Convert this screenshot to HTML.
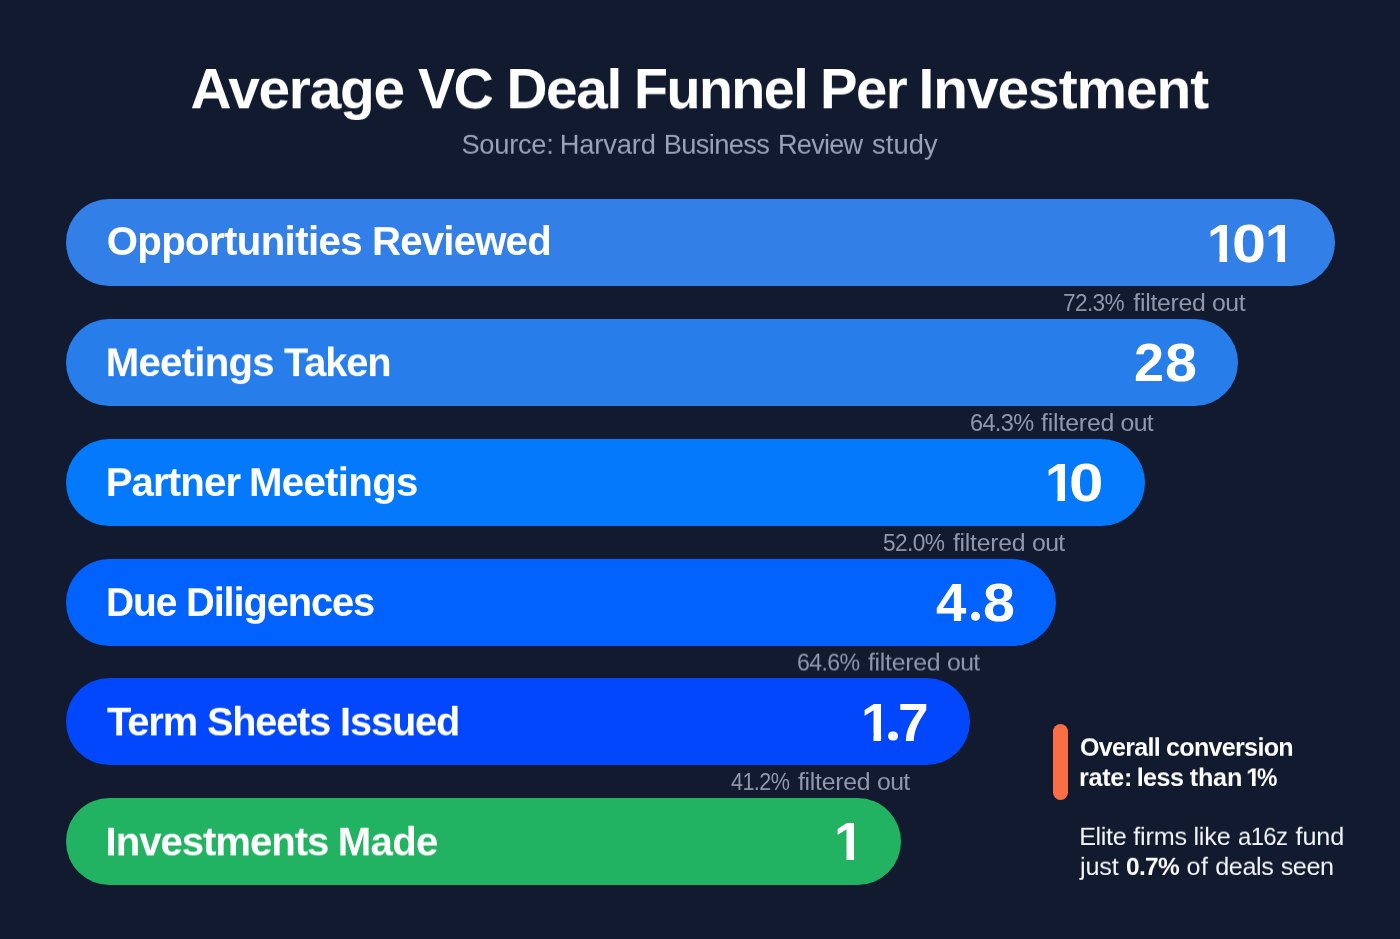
<!DOCTYPE html>
<html>
<head>
<meta charset="utf-8">
<title>Average VC Deal Funnel Per Investment</title>
<style>
  html, body { margin: 0; padding: 0; }
  body { width: 1400px; height: 939px; overflow: hidden; position: relative; background: #111a2e;
         font-family: "Liberation Sans", sans-serif; }
  .t { position: absolute; left: 0; top: 0; margin: 0; white-space: nowrap; line-height: 1; font-weight: normal; will-change: transform; }
  .t span { position: absolute; top: 0; transform-origin: 0 0; }
  .bar { position: absolute; left: 65.6px; border-radius: 44px; }
</style>
</head>
<body>
<div class="bar" id="b1" style="top:199.4px; height:86.5px; width:1269.1px; background:#337fe8;"></div>
<div class="bar" id="b2" style="top:319.1px; height:86.5px; width:1172.9px; background:#277de9;"></div>
<div class="bar" id="b3" style="top:439.1px; height:86.5px; width:1079.4px; background:#0479fb;"></div>
<div class="bar" id="b4" style="top:559.1px; height:86.5px; width:990.6px; background:#0262fe;"></div>
<div class="bar" id="b5" style="top:678.3px; height:87.0px; width:904.4px; background:#0247fc;"></div>
<div class="bar" id="b6" style="top:797.9px; height:87.1px; width:835.9px; background:#21b262;"></div>
<div id="accent" style="position:absolute; left:1053.1px; top:723.6px; width:15.2px; height:76.4px; border-radius:7.6px; background:#fa6e46;"></div>
<h1 class="t" id="title" style="top:61px; font-size:56.8px; font-weight:bold; color:#ffffff; transform:translateY(0.30px) scaleY(0.9825); transform-origin:0 47px; clip-path:inset(6.4px -2000px -120px -20px);"><span style="left:190.51px; letter-spacing:-1.261px;">Average</span> <span style="left:418.20px; letter-spacing:-1.590px; transform:scaleX(0.9799);">VC</span> <span style="left:506.45px; letter-spacing:-1.391px;">Deal</span> <span style="left:633.62px; letter-spacing:-1.590px; transform:scaleX(0.9802);">Funnel</span> <span style="left:819.69px; letter-spacing:-1.590px; transform:scaleX(0.9900);">Per</span> <span style="left:918.55px; letter-spacing:-1.026px;">Investment</span></h1>
<div class="t" id="sub" style="top:131px; font-size:27.3px; font-weight:normal; color:#9aa2b6; transform:translateY(-0.30px) scaleY(0.9921); transform-origin:0 23px;"><span style="left:461.45px; letter-spacing:-0.277px;">Source:</span> <span style="left:559.77px; letter-spacing:-0.155px;">Harvard</span> <span style="left:663.77px; letter-spacing:-0.670px;">Business</span> <span style="left:777.88px; letter-spacing:-0.764px; transform:scaleX(0.9942);">Review</span> <span style="left:872.07px; letter-spacing:0.094px;">study</span></div>
<div class="t" id="l1" style="top:222px; font-size:40.2px; font-weight:bold; color:#ffffff; transform:translateY(-0.10px) scaleY(0.9929); transform-origin:0 33px;"><span style="left:106.64px; letter-spacing:-0.628px;">Opportunities</span> <span style="left:371.99px; letter-spacing:-0.810px;">Reviewed</span></div>
<div class="t" id="l2" style="top:343px; font-size:40.2px; font-weight:bold; color:#ffffff; transform:translateY(0.10px) scaleY(0.9893); transform-origin:0 33px;"><span style="left:105.69px; letter-spacing:-0.755px;">Meetings</span> <span style="left:284.00px; letter-spacing:-1.126px; transform:scaleX(0.9911);">Taken</span></div>
<div class="t" id="l3" style="top:463px; font-size:40.2px; font-weight:bold; color:#ffffff; transform:translateY(-0.10px) scaleY(0.9893); transform-origin:0 33px;"><span style="left:105.69px; letter-spacing:-0.896px;">Partner</span> <span style="left:248.99px; letter-spacing:-0.683px;">Meetings</span></div>
<div class="t" id="l4" style="top:583px; font-size:40.2px; font-weight:bold; color:#ffffff; transform:translateY(-0.10px) scaleY(0.9893); transform-origin:0 33px;"><span style="left:105.77px; letter-spacing:-1.126px; transform:scaleX(0.9689);">Due</span> <span style="left:186.01px; letter-spacing:-1.126px; transform:scaleX(0.9914);">Diligences</span></div>
<div class="t" id="l5" style="top:702px; font-size:40.2px; font-weight:bold; color:#ffffff; transform:translateY(0.40px) scaleY(0.9893); transform-origin:0 33px;"><span style="left:107.20px; letter-spacing:-1.126px; transform:scaleX(0.9923);">Term</span> <span style="left:207.38px; letter-spacing:-1.126px; transform:scaleX(0.9843);">Sheets</span> <span style="left:339.72px; letter-spacing:-1.126px; transform:scaleX(0.9885);">Issued</span></div>
<div class="t" id="l6" style="top:822px; font-size:40.2px; font-weight:bold; color:#ffffff; transform:translateY(0.40px) scaleY(0.9893); transform-origin:0 33px;"><span style="left:105.59px; letter-spacing:-1.074px;">Investments</span> <span style="left:337.69px; letter-spacing:-0.648px;">Made</span></div>
<div class="t" id="v1" style="top:217px; font-size:53.8px; font-weight:bold; color:#ffffff; transform:translateY(-0.40px) scaleY(1.0054); transform-origin:0 45px;"><span style="left:1206.61px; clip-path:polygon(0 -10px, 29.92px -10px, 29.92px 38.00px, 20.04px 38.00px, 20.04px 69.94px, 12.46px 69.94px, 12.46px 38.00px, 0 38.00px); transform:scaleX(1.0024);">1</span><span style="left:1232.49px; transform:scaleX(1.1359);">0</span><span style="left:1265.01px; clip-path:polygon(0 -10px, 29.92px -10px, 29.92px 38.00px, 20.04px 38.00px, 20.04px 69.94px, 12.46px 69.94px, 12.46px 38.00px, 0 38.00px); transform:scaleX(1.0024);">1</span></div>
<div class="t" id="v2" style="top:336px; font-size:53.8px; font-weight:bold; color:#ffffff; transform:translateY(0.20px) scaleY(1.0054); transform-origin:0 45px;"><span style="left:1134.21px; transform:scaleX(1.0037);">2</span><span style="left:1165.41px; transform:scaleX(1.0669);">8</span></div>
<div class="t" id="v3" style="top:456px; font-size:53.8px; font-weight:bold; color:#ffffff; transform:translateY(0.20px) scaleY(1.0054); transform-origin:0 45px;"><span style="left:1045.11px; clip-path:polygon(0 -10px, 29.92px -10px, 29.92px 38.00px, 20.04px 38.00px, 20.04px 69.94px, 12.46px 69.94px, 12.46px 38.00px, 0 38.00px); transform:scaleX(1.0024);">1</span><span style="left:1069.38px; transform:scaleX(1.1500);">0</span></div>
<div class="t" id="v4" style="top:576px; font-size:53.8px; font-weight:bold; color:#ffffff; transform:translateY(-0.20px) scaleY(1.0054); transform-origin:0 45px;"><span style="left:936.30px; transform:scaleX(1.0145);">4</span><span style="left:970.80px; top:35.85px; width:9.45px; height:9.45px; border-radius:50%; background:currentColor; font-size:1px; line-height:1; overflow:hidden; text-indent:-99px;">.</span><span style="left:982.70px; transform:scaleX(1.0688);">8</span></div>
<div class="t" id="v5" style="top:696px; font-size:53.8px; font-weight:bold; color:#ffffff; transform:translateY(-0.50px) scaleY(1.0054); transform-origin:0 45px;"><span style="left:860.81px; clip-path:polygon(0 -10px, 29.92px -10px, 29.92px 38.00px, 20.04px 38.00px, 20.04px 69.94px, 12.46px 69.94px, 12.46px 38.00px, 0 38.00px); transform:scaleX(1.0024);">1</span><span style="left:887.80px; top:35.50px; width:9.80px; height:9.80px; border-radius:50%; background:currentColor; font-size:1px; line-height:1; overflow:hidden; text-indent:-99px;">.</span><span style="left:898.38px; transform:scaleX(1.0246);">7</span></div>
<div class="t" id="v6" style="top:815px; font-size:53.8px; font-weight:bold; color:#ffffff; transform:translateY(0.40px) scaleY(1.0054); transform-origin:0 45px;"><span style="left:833.91px; clip-path:polygon(0 -10px, 29.92px -10px, 29.92px 38.00px, 20.04px 38.00px, 20.04px 69.94px, 12.46px 69.94px, 12.46px 38.00px, 0 38.00px); transform:scaleX(1.0024);">1</span></div>
<div class="t" id="n1" style="top:291px; font-size:24.8px; font-weight:normal; color:#9098ab; transform:translateY(-0.10px) scaleY(0.9941); transform-origin:0 20px;"><span style="left:1063.24px; letter-spacing:-0.694px; transform:scaleX(0.9133);">72.3%</span> <span style="left:1133.25px; letter-spacing:-0.256px;">filtered</span> <span style="left:1211.97px; letter-spacing:-0.393px;">out</span></div>
<div class="t" id="n2" style="top:411px; font-size:24.8px; font-weight:normal; color:#9098ab; transform:translateY(-0.10px) scaleY(0.9941); transform-origin:0 20px;"><span style="left:970.10px; letter-spacing:-0.694px; transform:scaleX(0.9491);">64.3%</span> <span style="left:1041.00px; letter-spacing:-0.149px;">filtered</span> <span style="left:1120.47px; letter-spacing:-0.618px;">out</span></div>
<div class="t" id="n3" style="top:531px; font-size:24.8px; font-weight:normal; color:#9098ab; transform:translateY(-0.10px) scaleY(0.9941); transform-origin:0 20px;"><span style="left:883.09px; letter-spacing:-0.694px; transform:scaleX(0.9155);">52.0%</span> <span style="left:952.95px; letter-spacing:-0.256px;">filtered</span> <span style="left:1031.97px; letter-spacing:-0.618px;">out</span></div>
<div class="t" id="n4" style="top:650px; font-size:24.8px; font-weight:normal; color:#9098ab; transform:translateY(0.50px) scaleY(0.9941); transform-origin:0 20px;"><span style="left:796.81px; letter-spacing:-0.694px; transform:scaleX(0.9346);">64.6%</span> <span style="left:867.95px; letter-spacing:-0.256px;">filtered</span> <span style="left:946.98px; letter-spacing:-0.618px;">out</span></div>
<div class="t" id="n5" style="top:770px; font-size:24.8px; font-weight:normal; color:#9098ab; transform:translateY(-0.10px) scaleY(0.9941); transform-origin:0 20px;"><span style="left:730.96px; letter-spacing:-0.694px; transform:scaleX(0.8725);">41.2%</span> <span style="left:797.95px; letter-spacing:-0.256px;">filtered</span> <span style="left:876.98px; letter-spacing:-0.618px;">out</span></div>
<div class="t" id="a1" style="top:735px; font-size:25.2px; font-weight:bold; color:#ffffff; transform:translateY(-0.20px) scaleY(0.9778); transform-origin:0 21px;"><span style="left:1079.62px; letter-spacing:-0.706px; transform:scaleX(0.9943);">Overall</span> <span style="left:1166.11px; letter-spacing:-0.706px; transform:scaleX(0.9969);">conversion</span></div>
<div class="t" id="a2" style="top:765px; font-size:25.2px; font-weight:bold; color:#ffffff; transform:translateY(0.00px) scaleY(0.9778); transform-origin:0 21px;"><span style="left:1078.92px; letter-spacing:-0.288px;">rate:</span> <span style="left:1136.72px; letter-spacing:-0.617px;">less</span> <span style="left:1189.70px; letter-spacing:-0.192px;">than</span> <span style="left:1246.34px; clip-path:polygon(0 -10px, 14.02px -10px, 14.02px 17.00px, 9.44px 17.00px, 9.44px 32.76px, 5.78px 32.76px, 5.78px 17.00px, 0 17.00px); transform:scaleX(1.0241);">1</span><span style="left:1257.24px; transform:scaleX(0.9097);">%</span></div>
<div class="t" id="a3" style="top:824px; font-size:25.2px; font-weight:normal; color:#f3f5f9; transform:translateY(0.00px) scaleY(0.9611); transform-origin:0 21px;"><span style="left:1079.13px; letter-spacing:-0.358px;">Elite</span> <span style="left:1133.30px; letter-spacing:-0.199px;">firms</span> <span style="left:1193.42px; letter-spacing:-0.172px;">like</span> <span style="left:1238.15px; letter-spacing:-0.706px; transform:scaleX(0.9494);">a16z</span> <span style="left:1295.50px; letter-spacing:-0.077px;">fund</span></div>
<div class="t" id="a4" style="top:854px; font-size:25.2px; font-weight:normal; color:#f3f5f9; transform:translateY(0.00px) scaleY(0.9611); transform-origin:0 21px;"><span style="left:1080.09px; letter-spacing:-0.163px;">just</span> <span style="left:1125.64px; letter-spacing:-0.706px; transform:scaleX(0.9709); font-weight:bold; color:#ffffff;">0.7%</span> <span style="left:1186.61px; letter-spacing:0.285px;">of</span> <span style="left:1215.21px; letter-spacing:-0.392px;">deals</span> <span style="left:1280.71px; letter-spacing:-0.445px;">seen</span></div>
</body>
</html>
